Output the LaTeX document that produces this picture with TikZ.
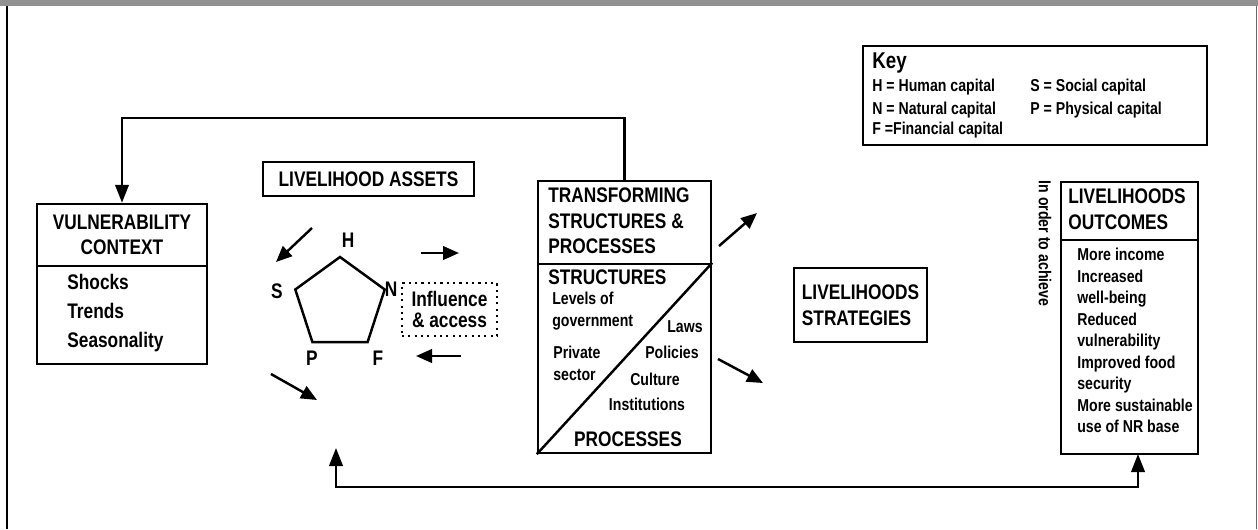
\documentclass[tikz,border=0pt]{standalone}
\usepackage{fontspec}
\setmainfont{Liberation Sans}[FakeStretch=0.82]
\usetikzlibrary{arrows.meta,shapes.geometric}

\begin{document}
\begin{tikzpicture}[>={Triangle[length=3.6mm,width=2.7mm]},
  box/.style={draw,line width=1.4pt,inner sep=0pt},
  title/.style={inner sep=0pt,font=\bfseries\fontsize{12}{14.6}\selectfont},
  body/.style={inner sep=0pt,font=\bfseries\fontsize{12}{16.5}\selectfont},
  small/.style={inner sep=0pt,font=\bfseries\fontsize{9.8}{12.2}\selectfont},
  link/.style={line width=1.4pt},
  flow/.style={line width=1.4pt,-{Triangle[length=3.2mm,width=2.7mm]}}]
\useasboundingbox (0,0) rectangle (25.16,-10.58);
% page frame
\fill[black!43] (0,0) rectangle (25.16,-0.12);
\draw[line width=1.1pt] (0.14,-0.12) -- (0.14,-10.58);
\draw[black!60,line width=0.5pt] (25.13,-0.12) -- (25.13,-10.58);

% vulnerability context
\node[box,title,minimum width=3.4cm,minimum height=1.24cm,align=center] (vulhead) at (2.44,-4.70) {VULNERABILITY\\CONTEXT};
\node[box,minimum width=3.4cm,minimum height=1.96cm] (vulbody) at (2.44,-6.30) {};
\node[body,anchor=west,align=left] (vultxt) at (1.34,-6.26) {Shocks\\Trends\\Seasonality};

% livelihood assets
\node[box,title,minimum width=4.22cm,minimum height=0.68cm] (assets) at (7.37,-3.58) {LIVELIHOOD ASSETS};
\node[draw,line width=1.4pt,regular polygon,regular polygon sides=5,minimum size=1.88cm,inner sep=0pt,outer sep=0pt] (penta) at (6.80,-6.08) {};
\node[title] (capH) at (6.96,-4.80) {H};
\node[title] (capS) at (5.54,-5.82) {S};
\node[title] (capN) at (7.82,-5.78) {N};
\node[title] (capP) at (6.24,-7.16) {P};
\node[title] (capF) at (7.56,-7.16) {F};
\node[draw,line width=1.3pt,dash pattern=on 1.2pt off 2.4pt,minimum width=1.9cm,minimum height=1.06cm,inner sep=0pt,align=center,font=\bfseries\fontsize{12}{12}\selectfont] (influence) at (8.99,-6.19) {Influence\\\& access};

% short arrows round the assets
\coordinate (swA) at (6.24,-4.56);  \coordinate (swB) at (5.52,-5.24);
\coordinate (seA) at (5.42,-7.48);  \coordinate (seB) at (6.34,-8.00);
\coordinate (toA) at (8.42,-5.06);  \coordinate (toB) at (9.18,-5.06);
\coordinate (frA) at (9.22,-7.12);  \coordinate (frB) at (8.32,-7.12);
\draw[flow] (swA) -- (swB);
\draw[flow] (seA) -- (seB);
\draw[flow] (toA) -- (toB);
\draw[flow] (frA) -- (frB);

% transforming structures and processes
\node[box,minimum width=3.46cm,minimum height=1.66cm] (trhead) at (12.49,-4.45) {};
\node[title,anchor=west,align=left] (trtitle) at (10.96,-4.42) {TRANSFORMING\\STRUCTURES \&\\PROCESSES};
\node[box,minimum width=3.46cm,minimum height=3.78cm] (trbody) at (12.49,-7.17) {};
\draw[link] (trbody.south west) -- (trbody.north east);
\node[title,anchor=west] (struct) at (10.96,-5.54) {STRUCTURES};
\node[small,anchor=west,align=left] (levels) at (11.04,-6.22) {Levels of\\government};
\node[small,anchor=west,align=left] (private) at (11.06,-7.27) {Private\\sector};
\node[small] (laws) at (13.70,-6.54) {Laws};
\node[small] (policies) at (13.44,-7.04) {Policies};
\node[small] (culture) at (13.10,-7.58) {Culture};
\node[small] (instit) at (12.94,-8.08) {Institutions};
\node[title] (process) at (12.56,-8.78) {PROCESSES};

% strategies
\node[box,title,minimum width=2.66cm,minimum height=1.48cm,align=left] (strat) at (17.21,-6.10) {LIVELIHOODS\\STRATEGIES};
\coordinate (neA) at (14.38,-4.92);  \coordinate (neB) at (15.14,-4.26);
\coordinate (dnA) at (14.36,-7.18);  \coordinate (dnB) at (15.26,-7.66);
\draw[flow] (neA) -- (neB);
\draw[flow] (dnA) -- (dnB);

% outcomes
\node[box,minimum width=2.74cm,minimum height=1.16cm] (outhead) at (22.59,-4.22) {};
\node[title,anchor=west,align=left] (outtitle) at (21.36,-4.19) {LIVELIHOODS\\OUTCOMES};
\node[box,minimum width=2.74cm,minimum height=4.28cm] (outbody) at (22.59,-6.94) {};
\node[small,anchor=west,align=left,font=\bfseries\fontsize{9.8}{12.25}\selectfont] (outtxt) at (21.54,-6.81) {More income\\Increased\\well-being\\Reduced\\vulnerability\\Improved food\\security\\More sustainable\\use of NR base};
\node[small,rotate=-90] (achieve) at (20.90,-4.87) {In order to achieve};

% key
\node[box,minimum width=6.88cm,minimum height=1.98cm] (key) at (20.70,-1.91) {};
\node[inner sep=0pt,anchor=west,font=\bfseries\fontsize{13}{14}\selectfont] (keyhead) at (17.44,-1.26) {Key};
\node[small,anchor=west] (keyH) at (17.44,-1.74) {H = Human capital};
\node[small,anchor=west] (keyN) at (17.44,-2.20) {N = Natural capital};
\node[small,anchor=west] (keyF) at (17.44,-2.60) {F =Financial capital};
\node[small,anchor=west] (keyS) at (20.60,-1.74) {S = Social capital};
\node[small,anchor=west] (keyP) at (20.60,-2.20) {P = Physical capital};

% feedback loops
\coordinate (loopT) at (6.00,-2.36);
\draw[link,->] (trhead.north) |- (loopT) -| (vulhead.north);
\coordinate (assetin) at (6.72,-8.96);
\coordinate (outin) at (22.76,-9.08);
\coordinate (loopB) at (14.00,-9.74);
\draw[link,<->] (assetin) |- (loopB) -| (outin);
\end{tikzpicture}
\end{document}
